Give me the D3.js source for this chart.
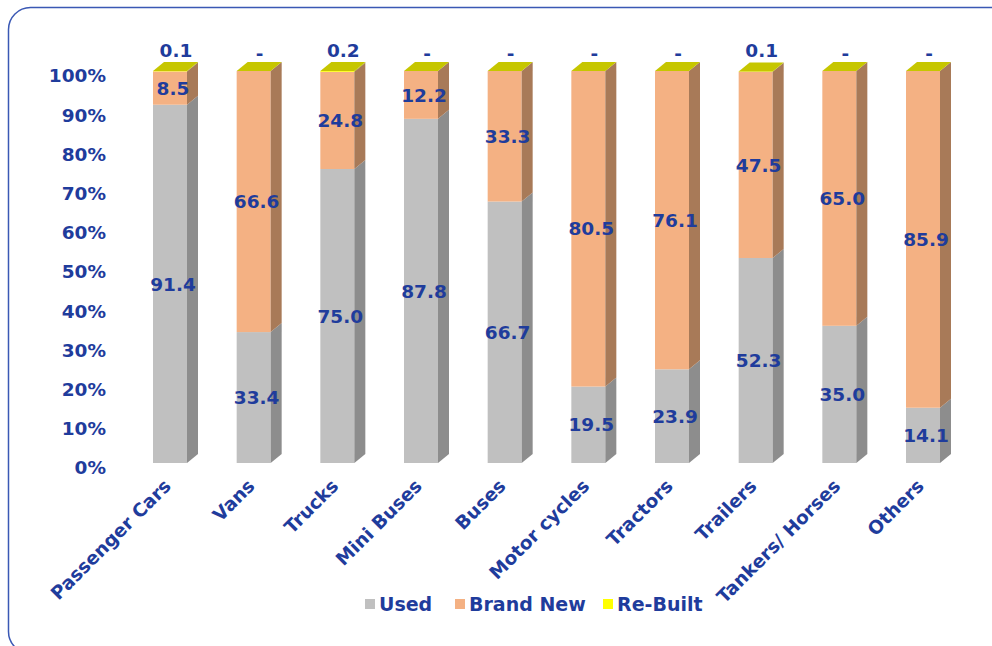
<!DOCTYPE html>
<html>
<head>
<meta charset="utf-8">
<script src="https://cdn.jsdelivr.net/npm/d3@7"></script>
<style>
  body { margin: 0; background: #fff; }
  svg text { font-family: "DejaVu Sans", sans-serif; font-weight: bold; fill: #1f3c9c; }
</style>
</head>
<body>
<script>
// chart data
var categories = ['Passenger Cars', 'Vans', 'Trucks', 'Mini Buses', 'Buses', 'Motor cycles', 'Tractors', 'Trailers', 'Tankers/ Horses', 'Others'];
var used = [91.4, 33.4, 75.0, 87.8, 66.7, 19.5, 23.9, 52.3, 35.0, 14.1];
var brandNew = [8.5, 66.6, 24.8, 12.2, 33.3, 80.5, 76.1, 47.5, 65.0, 85.9];
var reBuilt = [0.1, 0, 0.2, 0, 0, 0, 0, 0.1, 0, 0];
var seriesNames = ['Used', 'Brand New', 'Re-Built'];
var yTicks = [0, 10, 20, 30, 40, 50, 60, 70, 80, 90, 100];

var W = 992, H = 646;
var barW = 34, dx = 11, dy = 9;
var front = { 'Used': '#c0c0c0', 'Brand New': '#f4b183', 'Re-Built': '#ffff00' };
var side = { 'Used': '#8d8d8d', 'Brand New': '#a87a58', 'Re-Built': '#a8a800' };
var legendCol = { 'Used': '#c0c0c0', 'Brand New': '#f4b183', 'Re-Built': '#ffff00' };
var topColor = '#c6c600';

var svg = d3.select('body')
    .append('svg')
    .attr('width', W)
    .attr('height', H);

// frame, runs off the right and bottom edges
svg.append('rect')
    .attr('x', 8.5)
    .attr('y', 7.5)
    .attr('width', 1100)
    .attr('height', 646)
    .attr('rx', 22)
    .attr('fill', 'none')
    .attr('stroke', '#3a58b4')
    .attr('stroke-width', 1.5);

var x = d3.scalePoint()
    .domain(categories)
    .range([170, 923]);

var y = d3.scaleLinear()
    .domain([0, 100])
    .range([463, 71]);

// y axis labels
var yAxis = d3.axisLeft(y)
    .tickValues(yTicks)
    .tickFormat(d => d + '%')
    .tickSize(0)
    .tickPadding(0);

var yg = svg.append('g')
    .attr('transform', 'translate(106,5)')
    .call(yAxis);
yg.select('.domain').remove();
yg.selectAll('text')
    .attr('font-size', 18.5)
    .attr('fill', '#1f3c9c')
    .attr('font-family', '"DejaVu Sans", sans-serif')
    .attr('font-weight', 'bold');

// stack data
var rows = categories.map(function(c, i) {
    return { cat: c, 'Used': used[i], 'Brand New': brandNew[i], 'Re-Built': reBuilt[i] };
});
var stacked = d3.stack().keys(seriesNames)(rows);

var bars = svg.append('g');

stacked.forEach(function(layer) {
    var key = layer.key;
    layer.forEach(function(d) {
        if (d[1] - d[0] <= 0) return;
        var cx = x(d.data.cat);
        var x0 = cx - barW / 2, x1 = cx + barW / 2;
        var ya = y(d[0]), yb = y(d[1]);
        bars.append('rect')
            .attr('x', x0)
            .attr('y', yb)
            .attr('width', barW)
            .attr('height', ya - yb)
            .attr('fill', front[key]);
        bars.append('path')
            .attr('d', 'M' + x1 + ',' + yb + 'L' + (x1 + dx) + ',' + (yb - dy) +
                'L' + (x1 + dx) + ',' + (ya - dy) + 'L' + x1 + ',' + ya + 'Z')
            .attr('fill', side[key]);
    });
});

// top caps
rows.forEach(function(r) {
    var cx = x(r.cat);
    var x0 = cx - barW / 2, x1 = cx + barW / 2;
    var total = r['Used'] + r['Brand New'] + r['Re-Built'];
    var yt = y(total);
    bars.append('path')
        .attr('d', 'M' + x0 + ',' + yt + 'L' + (x0 + dx) + ',' + (yt - dy) +
            'L' + (x1 + dx) + ',' + (yt - dy) + 'L' + x1 + ',' + yt + 'Z')
        .attr('fill', topColor);
});

// value labels
var labels = svg.append('g');
stacked.slice(0, 2).forEach(function(layer) {
    labels.selectAll('.lbl-' + layer.index)
        .data(layer)
        .enter()
        .append('text')
        .attr('x', d => x(d.data.cat) + 3)
        .attr('y', d => y((d[0] + d[1]) / 2))
        .attr('dy', '0.36em')
        .attr('text-anchor', 'middle')
        .attr('font-size', 18.5)
        .text(d => (d[1] - d[0]).toFixed(1));
});

labels.selectAll('.top-lbl')
    .data(rows)
    .enter()
    .append('text')
    .attr('x', d => x(d.cat) + 6)
    .attr('y', d => d['Re-Built'] > 0 ? 57 : 60)
    .attr('text-anchor', 'middle')
    .attr('font-size', 18.5)
    .text(d => d['Re-Built'] > 0 ? d['Re-Built'].toFixed(1) : '-');

// category labels
svg.append('g')
    .selectAll('text')
    .data(categories)
    .enter()
    .append('text')
    .attr('transform', d => 'translate(' + (x(d) - 7) + ',478) rotate(-45)')
    .attr('text-anchor', 'end')
    .attr('dy', '0.7em')
    .attr('font-size', 18.5)
    .text(d => d);

// legend
var legendX = [365, 455, 603];
var legend = svg.append('g')
    .selectAll('g')
    .data(seriesNames)
    .enter()
    .append('g')
    .attr('transform', (d, i) => 'translate(' + legendX[i] + ',599)');
legend.append('rect')
    .attr('width', 10)
    .attr('height', 10)
    .attr('fill', d => legendCol[d]);
legend.append('text')
    .attr('x', 14)
    .attr('y', 12)
    .attr('font-size', 19)
    .text(d => d);
</script>
</body>
</html>
